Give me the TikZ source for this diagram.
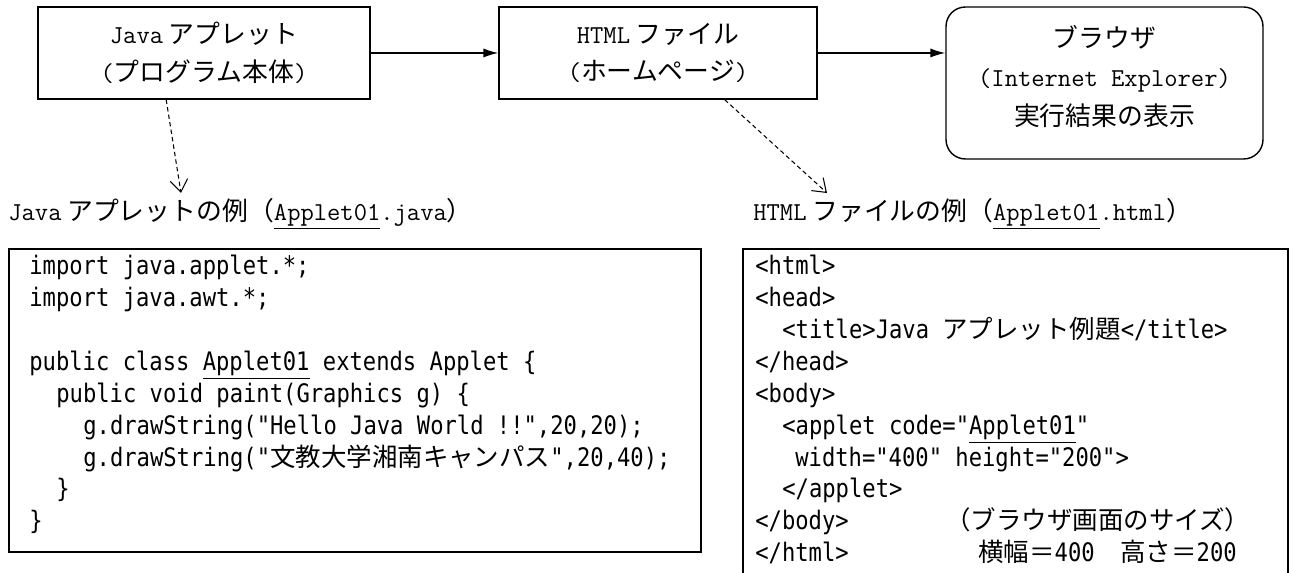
\documentclass[tikz,border=0pt]{standalone}
\usepackage{fontspec}
\setmainfont{Noto Sans CJK JP}
\newfontfamily\codefont[FakeStretch=0.87]{DejaVu Sans Mono}
\newfontfamily\jpfont{Noto Sans CJK JP}
\newcommand{\jtext}[1]{{\jpfont #1}}
\usetikzlibrary{arrows.meta}

\tikzset{
  flowbox/.style={draw, line width=0.8pt, align=center, inner sep=0pt,
    minimum height=1.84cm, font={\fontsize{14.7}{21.5}\selectfont}},
  flowarrow/.style={line width=0.8pt, -{Latex[length=8.5pt,width=5.2pt]}},
  refarrow/.style={line width=0.6pt, dash pattern=on 2.5pt off 1.8pt,
    -{Straight Barb[length=7pt,width=10pt]}},
  codetext/.style={align=left, inner sep=0pt, anchor=north west,
    font={\codefont\fontsize{14.5}{18.14}\selectfont}},
  caption/.style={anchor=west, inner sep=0pt, font={\fontsize{14.7}{18}\selectfont}},
}

\begin{document}
\begin{tikzpicture}[x=0.02cm, y=-0.02cm]
			%%%%% START %%%%%
			\useasboundingbox (0,0) rectangle (1295,573);
			
			\node[flowbox, minimum width=6.64cm] (applet) at (204,53)
				{{\ttfamily Java} アプレット\\{\ttfamily(}プログラム本体{\ttfamily)}};
			\node[flowbox, minimum width=6.36cm] (htmlfile) at (658,53)
				{{\ttfamily HTML} ファイル\\{\ttfamily(}ホームページ{\ttfamily)}};
			\node[flowbox, rounded corners=11pt, minimum width=6.34cm, minimum height=3.04cm,
				font={\fontsize{14.7}{22.4}\selectfont}] (browser) at (1104.5,83)
				{ブラウザ\\{\ttfamily(Internet Explorer)}\\実行結果の表示\rule[-8.5pt]{0pt}{0pt}};
			
			\draw[flowarrow] (applet) -- (htmlfile);
			\draw[flowarrow] (htmlfile) -- (htmlfile -| browser.west);
			
			\coordinate (javatip) at (181,193);
			\coordinate (htmltip) at (827,193);
			\draw[refarrow] (applet.231) -- (javatip);
			\draw[refarrow] (htmlfile.325) -- (htmltip);
			
			\node[caption] (javacap) at (8,214)
				{{\ttfamily Java} アプレットの例（{\ttfamily\underline{Applet01}.java}）};
			\node[caption] (htmlcap) at (753,214)
				{{\ttfamily HTML} ファイルの例（{\ttfamily\underline{Applet01}.html}）};
			
			\draw[line width=0.8pt] (9,249) rectangle (701,552);
			\draw[line width=0.8pt] (743,573) -- (743,249) -- (1288,249) -- (1288,573);
			
			\node[codetext] (javacode) at (29,255) {%
				import java.applet.*;\\
				import java.awt.*;\\
				\mbox{}\\
				public class \underline{Applet01} extends Applet \{\\
				\hspace*{0.54cm}public void paint(Graphics g) \{\\
				\hspace*{1.08cm}g.drawString("Hello Java World !!",20,20);\\
				\hspace*{1.08cm}g.drawString("\jtext{文教大学湘南キャンパス}",20,40);\\
				\hspace*{0.54cm}\}\\
				\}};
			
			\node[codetext] (htmlcode) at (755,255) {%
				<html>\\
				<head>\\
				\hspace*{0.54cm}<title>Java \jtext{アプレット例題}</title>\\
				</head>\\
				<body>\\
				\hspace*{0.54cm}<applet code="\underline{Applet01}"\\
				\hspace*{0.8cm}width="400" height="200">\\
				\hspace*{0.54cm}</applet>\\
				\makebox[3.8cm][l]{</body>}\jtext{（ブラウザ画面のサイズ）}\\
				\makebox[4.46cm][l]{</html>}\jtext{横幅＝}400\jtext{　高さ＝}200};
			
			%%%%% END %%%%%
\end{tikzpicture}
\end{document}
